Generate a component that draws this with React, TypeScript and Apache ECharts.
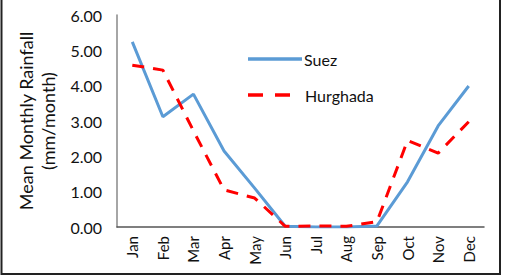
import React, { useEffect, useRef } from "react";
import * as echarts from "echarts";

const months = ["Jan", "Feb", "Mar", "Apr", "May", "Jun", "Jul", "Aug", "Sep", "Oct", "Nov", "Dec"];
const suez = [5.24, 3.12, 3.76, 2.15, 1.1, 0.02, 0.0, 0.0, 0.03, 1.28, 2.86, 3.99];
const hurghada = [4.58, 4.44, 2.72, 1.05, 0.82, 0.02, 0.03, 0.02, 0.15, 2.45, 2.09, 2.98];
const seriesNames = ["Suez", "Hurghada"];
const yTicks = { min: 0, max: 6, interval: 1 };

const FONT = "Lato";
const BLUE = "#5B9BD5";
const RED = "#FF0000";

export default function App() {
  const ref = useRef<HTMLDivElement>(null);
  useEffect(() => {
    if (!ref.current) return;
    const chart = echarts.init(ref.current, null, { renderer: "svg" });
    chart.setOption({
      animation: false,
      backgroundColor: "#ffffff",
      textStyle: { fontFamily: FONT },
      grid: { left: 117, right: 21, top: 15, bottom: 49 },
      xAxis: {
        type: "category",
        data: months,
        boundaryGap: true,
        axisLine: { lineStyle: { color: "#555", width: 1.5 } },
        axisTick: { show: false },
        axisLabel: { rotate: 90, fontFamily: FONT, fontSize: 15, color: "#111", margin: 9 },
      },
      yAxis: {
        type: "value",
        min: yTicks.min,
        max: yTicks.max,
        interval: yTicks.interval,
        name: "Mean Monthly Rainfall\n(mm/month)",
        nameLocation: "middle",
        nameGap: 56,
        nameTextStyle: { fontFamily: FONT, fontSize: 18, color: "#111", lineHeight: 22 },
        splitLine: { show: false },
        axisLine: { show: true, lineStyle: { color: "#888", width: 1.5 } },
        axisTick: { show: false },
        axisLabel: {
          fontFamily: FONT,
          fontSize: 16,
          color: "#111",
          margin: 15,
          formatter: (v: number) => v.toFixed(2),
        },
      },
      series: [
        {
          name: seriesNames[0],
          type: "line",
          data: suez,
          symbol: "none",
          lineStyle: { color: BLUE, width: 3 },
          itemStyle: { color: BLUE },
        },
        {
          name: seriesNames[1],
          type: "line",
          data: hurghada,
          symbol: "none",
          lineStyle: { color: RED, width: 3, type: [12, 9] },
          itemStyle: { color: RED },
        },
      ],
      graphic: [
        {
          type: "polyline",
          shape: { points: [[1.5, 0], [1.5, 274], [500, 274], [500, 0]] },
          style: { stroke: "#222", lineWidth: 2, fill: "none" },
          silent: true,
        },
        {
          type: "line",
          shape: { x1: 248, y1: 59, x2: 302, y2: 59 },
          style: { stroke: BLUE, lineWidth: 3.5 },
          silent: true,
        },
        {
          type: "text",
          x: 304,
          y: 59,
          style: { text: seriesNames[0], fontFamily: FONT, fontSize: 16, fill: "#111", verticalAlign: "middle" },
          silent: true,
        },
        {
          type: "line",
          shape: { x1: 248, y1: 95, x2: 290, y2: 95 },
          style: { stroke: RED, lineWidth: 3.5, lineDash: [15, 12] },
          silent: true,
        },
        {
          type: "text",
          x: 305,
          y: 95,
          style: { text: seriesNames[1], fontFamily: FONT, fontSize: 16, fill: "#111", verticalAlign: "middle" },
          silent: true,
        },
      ],
    });
    return () => chart.dispose();
  }, []);
  return (
    <div
      ref={ref}
      style={{ position: "fixed", left: 0, top: 0, width: 505, height: 276 }}
    />
  );
}
